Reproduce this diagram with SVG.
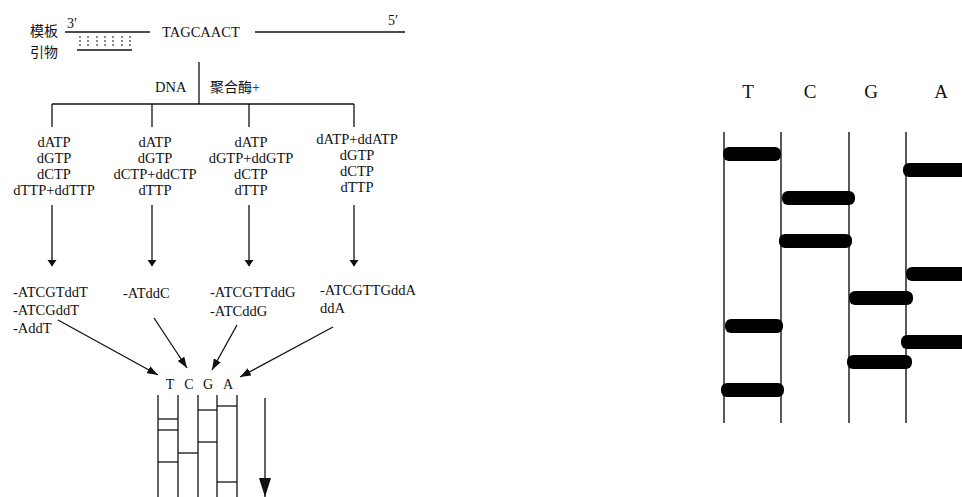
<svg xmlns="http://www.w3.org/2000/svg" width="962" height="497" viewBox="0 0 962 497">
<defs>
<style>
text{font-family:"Liberation Serif","Noto Sans CJK SC",serif;fill:#111;}
.t{font-size:14.5px;}
.c{text-anchor:middle;}
.ln{stroke:#111;stroke-width:1.3;fill:none;}
.lane{stroke:#222;stroke-width:1.5;fill:none;}
.band{fill:#000;}
</style>
<marker id="ah" markerWidth="7" markerHeight="11" refX="6" refY="5.5" orient="auto" markerUnits="userSpaceOnUse">
<path d="M0,1 L11,5.5 L0,10 Z" fill="#111" transform="scale(0.6,1)"/>
</marker>
<marker id="ah2" markerWidth="12" markerHeight="8" refX="11" refY="4" orient="auto" markerUnits="userSpaceOnUse">
<path d="M0,0 L11,4 L0,8 Z" fill="#111"/>
</marker>
<marker id="ahBig" markerWidth="20" markerHeight="12" refX="19" refY="6" orient="auto" markerUnits="userSpaceOnUse">
<path d="M0,0 L19,6 L0,12 Z" fill="#111"/>
</marker>
</defs>
<rect width="962" height="497" fill="#fff"/>

<g id="template">
<text x="30" y="36" style="font-size:14px">模板</text>
<text x="30" y="57" style="font-size:14px">引物</text>
<text x="67" y="28" style="font-size:14px">3′</text>
<line class="ln" x1="65" y1="32" x2="150" y2="32"/>
<text class="t" x="162" y="37">TAGCAACT</text>
<line class="ln" x1="255" y1="32" x2="405" y2="32"/>
<text x="388" y="25" style="font-size:14px">5′</text>
<line class="ln" x1="77" y1="50" x2="132" y2="50"/>
<g stroke="#111" stroke-width="1" stroke-dasharray="2,2">
<line x1="80" y1="36" x2="80" y2="48"/>
<line x1="88" y1="36" x2="88" y2="48"/>
<line x1="97" y1="36" x2="97" y2="48"/>
<line x1="105" y1="36" x2="105" y2="48"/>
<line x1="113" y1="36" x2="113" y2="48"/>
<line x1="122" y1="36" x2="122" y2="48"/>
<line x1="130" y1="36" x2="130" y2="48"/>
</g>
</g>

<g id="polymerase">
<text class="t" x="155" y="92">DNA</text>
<text x="210" y="92" style="font-size:14px">聚合酶+</text>
</g>

<g id="mix-T">
<text class="t c" x="54" y="147">dATP</text>
<text class="t c" x="54" y="163">dGTP</text>
<text class="t c" x="54" y="179">dCTP</text>
<text class="t c" x="54" y="195">dTTP+ddTTP</text>
</g>
<g id="mix-C">
<text class="t c" x="155" y="147">dATP</text>
<text class="t c" x="155" y="163">dGTP</text>
<text class="t c" x="155" y="179">dCTP+ddCTP</text>
<text class="t c" x="155" y="195">dTTP</text>
</g>
<g id="mix-G">
<text class="t c" x="251" y="147">dATP</text>
<text class="t c" x="251" y="163">dGTP+ddGTP</text>
<text class="t c" x="251" y="179">dCTP</text>
<text class="t c" x="251" y="195">dTTP</text>
</g>
<g id="mix-A">
<text class="t c" x="357" y="144">dATP+ddATP</text>
<text class="t c" x="357" y="160">dGTP</text>
<text class="t c" x="357" y="176">dCTP</text>
<text class="t c" x="357" y="192">dTTP</text>
</g>

<g id="frag-T">
<text class="t" x="13" y="297">-ATCGTddT</text>
<text class="t" x="13" y="315">-ATCGddT</text>
<text class="t" x="13" y="333">-AddT</text>
</g>
<g id="frag-C">
<text class="t" x="123" y="298">-ATddC</text>
</g>
<g id="frag-G">
<text class="t" x="210" y="297">-ATCGTTddG</text>
<text class="t" x="210" y="316">-ATCddG</text>
</g>
<g id="frag-A">
<text class="t" x="320" y="295">-ATCGTTGddA</text>
<text class="t" x="320" y="313">ddA</text>
</g>

<g id="connectors">
<line class="ln" x1="199" y1="62" x2="199" y2="104"/>
<line class="ln" x1="52" y1="104" x2="354" y2="104"/>
<line class="ln" x1="52" y1="104" x2="52" y2="127"/>
<line class="ln" x1="152" y1="104" x2="152" y2="127"/>
<line class="ln" x1="249" y1="104" x2="249" y2="127"/>
<line class="ln" x1="354" y1="104" x2="354" y2="127"/>
<line class="ln" x1="52" y1="205" x2="52" y2="266" marker-end="url(#ah)"/>
<line class="ln" x1="152" y1="205" x2="152" y2="266" marker-end="url(#ah)"/>
<line class="ln" x1="249" y1="205" x2="249" y2="266" marker-end="url(#ah)"/>
<line class="ln" x1="354" y1="205" x2="354" y2="266" marker-end="url(#ah)"/>
<line class="ln" x1="58" y1="320" x2="158" y2="375" marker-end="url(#ah2)"/>
<line class="ln" x1="154" y1="318" x2="187" y2="368" marker-end="url(#ah2)"/>
<line class="ln" x1="237" y1="325" x2="212" y2="370" marker-end="url(#ah2)"/>
<line class="ln" x1="333" y1="327" x2="240" y2="377" marker-end="url(#ah2)"/>
</g>

<g id="gel-small">
<text class="c" x="170" y="389" style="font-size:14px">T</text>
<text class="c" x="189" y="389" style="font-size:14px">C</text>
<text class="c" x="208" y="389" style="font-size:14px">G</text>
<text class="c" x="228" y="389" style="font-size:14px">A</text>
<g class="ln">
<line x1="158" y1="395" x2="158" y2="497"/>
<line x1="178" y1="395" x2="178" y2="497"/>
<line x1="198" y1="395" x2="198" y2="497"/>
<line x1="217" y1="395" x2="217" y2="497"/>
<line x1="237" y1="395" x2="237" y2="497"/>
<line x1="158" y1="419" x2="178" y2="419"/>
<line x1="158" y1="430" x2="178" y2="430"/>
<line x1="158" y1="462" x2="178" y2="462"/>
<line x1="178" y1="453" x2="198" y2="453"/>
<line x1="198" y1="410" x2="217" y2="410"/>
<line x1="198" y1="442" x2="217" y2="442"/>
<line x1="217" y1="406" x2="237" y2="406"/>
<line x1="217" y1="482" x2="237" y2="482"/>
</g>
<line class="ln" x1="265" y1="398" x2="265" y2="497" marker-end="url(#ahBig)"/>
</g>

<g id="gel-large">
<text class="c" x="748" y="98" style="font-size:19px">T</text>
<text class="c" x="810" y="98" style="font-size:19px">C</text>
<text class="c" x="871" y="98" style="font-size:19px">G</text>
<text class="c" x="941" y="98" style="font-size:19px">A</text>
<g class="lane">
<line x1="724" y1="132" x2="724" y2="423"/>
<line x1="781" y1="132" x2="781" y2="423"/>
<line x1="849" y1="132" x2="849" y2="423"/>
<line x1="906" y1="132" x2="906" y2="423"/>
</g>
<g class="band">
<rect x="723" y="147" width="58" height="14" rx="6"/>
<rect x="725" y="319" width="58" height="14" rx="6"/>
<rect x="721" y="383" width="63" height="14" rx="6"/>
<rect x="782" y="191" width="73" height="14" rx="6"/>
<rect x="779" y="234" width="73" height="14" rx="6"/>
<rect x="849" y="291" width="64" height="14" rx="6"/>
<rect x="847" y="355" width="65" height="14" rx="6"/>
<rect x="903" y="163" width="70" height="14" rx="6"/>
<rect x="906" y="267" width="70" height="14" rx="6"/>
<rect x="901" y="335" width="70" height="14" rx="6"/>
</g>
</g>
</svg>
